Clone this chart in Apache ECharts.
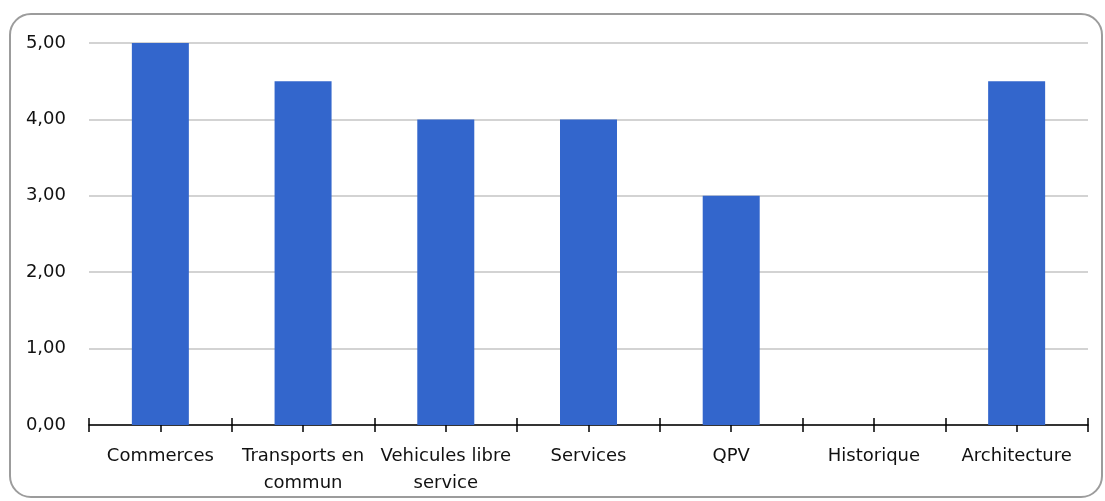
<!DOCTYPE html>
<html>
<head>
<meta charset="utf-8">
<script src="https://cdn.jsdelivr.net/npm/echarts@6/dist/echarts.min.js"></script>
<style>
  html, body { margin: 0; padding: 0; background: #fff; }
  #frame {
    position: absolute; left: 9px; top: 13px; width: 1090px; height: 481px;
    border: 2px solid #9c9c9c; border-radius: 22px;
  }
  #chartmain { position: absolute; left: 0; top: 0; width: 1105px; height: 501px; }
</style>
</head>
<body>
<div id="frame"></div>
<div id="chartmain"></div>
<script>
// categories and values
var categories = ['Commerces', 'Transports en commun', 'Vehicules libre service', 'Services', 'QPV', 'Historique', 'Architecture'];
var tickLabels = ['Commerces', 'Transports en\ncommun', 'Vehicules libre\nservice', 'Services', 'QPV', 'Historique', 'Architecture'];
var scores = [5, 4.5, 4, 4, 3, null, 4.5];
var yTicks = [0, 1, 2, 3, 4, 5];

var font = 'DejaVu Sans';

// a value axis 0..14 puts a tick on each category edge and centre
function tickAxis(inside) {
	return {
		type : 'value',
		position : 'bottom',
		min : 0,
		max : categories.length * 2,
		interval : 1,
		axisLine : { show : false },
		axisLabel : { show : false },
		splitLine : { show : false },
		axisTick : {
			show : true,
			inside : inside,
			length : 7,
			lineStyle : { color : '#000', width : 1.5 }
		}
	};
}

var option = {
	animation : false,
	grid : {
		left : 89,
		right : 17,
		top : 43,
		bottom : 76
	},
	xAxis : [ {
		type : 'category',
		data : categories,
		boundaryGap : true,
		axisLine : { lineStyle : { color : '#000', width : 1.5 } },
		axisTick : { show : false },
		axisLabel : {
			interval : 0,
			margin : 18,
			color : '#111',
			fontFamily : font,
			fontSize : 18,
			lineHeight : 27,
			formatter : function(v, i) { return tickLabels[i]; }
		}
	}, tickAxis(false), tickAxis(true) ],
	yAxis : {
		type : 'value',
		min : yTicks[0],
		max : yTicks[yTicks.length - 1],
		interval : 1,
		axisLine : { show : false },
		axisTick : { show : false },
		axisLabel : {
			margin : 23,
			color : '#111',
			fontFamily : font,
			fontSize : 18,
			formatter : function(v) { return v.toFixed(2).replace('.', ','); }
		},
		splitLine : { lineStyle : { color : '#c4c4c4', width : 1.5 } }
	},
	series : [ {
		type : 'bar',
		data : scores,
		barWidth : 57,
		itemStyle : { color : '#3366cc' }
	} ]
};

var myChart = echarts.init(document.getElementById('chartmain'));
myChart.setOption(option);
</script>
</body>
</html>
